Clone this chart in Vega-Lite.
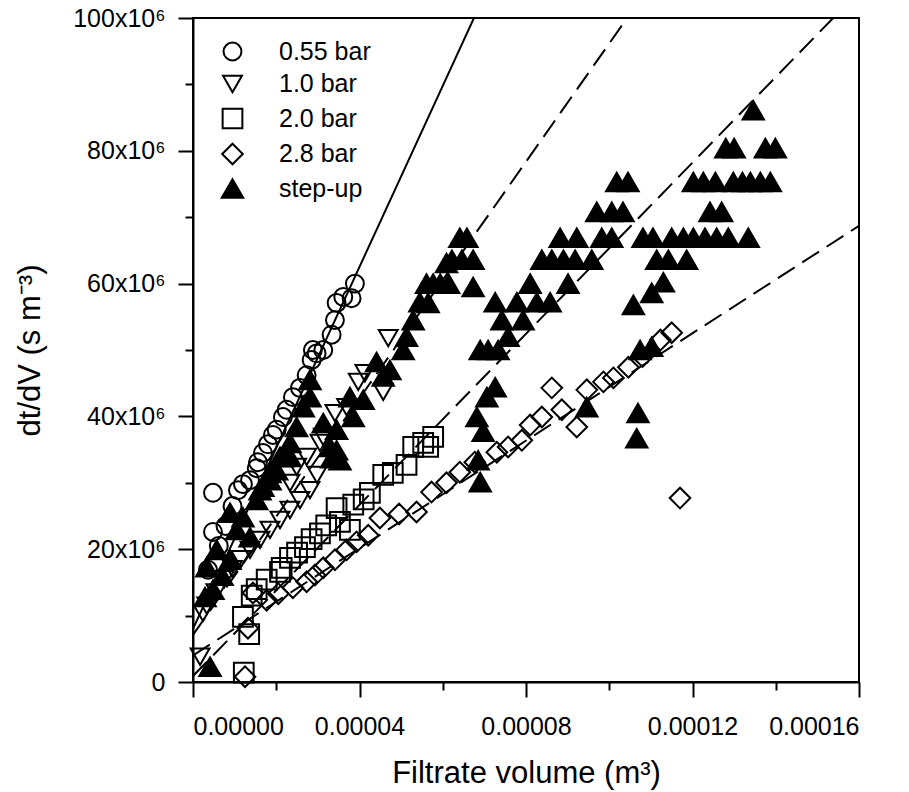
{
  "$schema": "https://vega.github.io/schema/vega-lite/v6.json",
  "width": 666,
  "height": 664,
  "autosize": {"type": "none"},
  "padding": {"left": 193, "top": 18, "right": 50, "bottom": 110},
  "background": "white",
  "config": {
    "view": {"stroke": "black", "strokeWidth": 2},
    "font": "Liberation Sans",
    "axis": {"grid": false, "domainColor": "black", "domainWidth": 2, "tickColor": "black", "tickWidth": 2, "labelColor": "black", "titleColor": "black", "labelFont": "Liberation Sans", "titleFont": "Liberation Sans", "titleFontWeight": "normal", "labelFontSize": 25, "titleFontSize": 31},
    "legend": {"orient": "none", "legendX": 27, "legendY": 21, "title": null, "labelFont": "Liberation Sans", "labelFontSize": 25, "labelColor": "black", "rowPadding": 6.5, "labelOffset": 34, "symbolStrokeColor": "black", "symbolStrokeWidth": 2, "padding": 0}
  },
  "datasets": {
    "fits": [
      {"fit": "0.55 bar", "style": "solid", "volume": 0, "dtdV": 8.0e6},
      {"fit": "0.55 bar", "style": "solid", "volume": 6.75e-5, "dtdV": 100e6},
      {"fit": "1.0 bar", "style": "dashed", "volume": 0, "dtdV": 7.1e6},
      {"fit": "1.0 bar", "style": "dashed", "volume": 10.43e-5, "dtdV": 100e6},
      {"fit": "2.0 bar", "style": "dashed", "volume": 0, "dtdV": 0.9e6},
      {"fit": "2.0 bar", "style": "dashed", "volume": 15.38e-5, "dtdV": 100e6},
      {"fit": "2.8 bar", "style": "dashed", "volume": 0, "dtdV": 4.0e6},
      {"fit": "2.8 bar", "style": "dashed", "volume": 16e-5, "dtdV": 68.7e6}
    ],
    "points": [
      {"series": "step-up", "volume": 0.41e-5, "dtdV": 2.3e6},
      {"series": "step-up", "volume": 0.29e-5, "dtdV": 12.8e6},
      {"series": "step-up", "volume": 0.48e-5, "dtdV": 13.9e6},
      {"series": "step-up", "volume": 0.33e-5, "dtdV": 17.3e6},
      {"series": "step-up", "volume": 0.57e-5, "dtdV": 19.9e6},
      {"series": "step-up", "volume": 0.70e-5, "dtdV": 16.0e6},
      {"series": "step-up", "volume": 0.89e-5, "dtdV": 18.4e6},
      {"series": "step-up", "volume": 1.05e-5, "dtdV": 22.9e6},
      {"series": "step-up", "volume": 1.37e-5, "dtdV": 21.8e6},
      {"series": "step-up", "volume": 0.89e-5, "dtdV": 25.5e6},
      {"series": "step-up", "volume": 1.20e-5, "dtdV": 24.8e6},
      {"series": "step-up", "volume": 1.53e-5, "dtdV": 27.4e6},
      {"series": "step-up", "volume": 1.61e-5, "dtdV": 28.9e6},
      {"series": "step-up", "volume": 1.68e-5, "dtdV": 29.4e6},
      {"series": "step-up", "volume": 1.85e-5, "dtdV": 30.4e6},
      {"series": "step-up", "volume": 1.85e-5, "dtdV": 31.5e6},
      {"series": "step-up", "volume": 2.01e-5, "dtdV": 31.9e6},
      {"series": "step-up", "volume": 2.09e-5, "dtdV": 33.9e6},
      {"series": "step-up", "volume": 2.16e-5, "dtdV": 33.9e6},
      {"series": "step-up", "volume": 2.33e-5, "dtdV": 33.9e6},
      {"series": "step-up", "volume": 2.33e-5, "dtdV": 36.0e6},
      {"series": "step-up", "volume": 2.49e-5, "dtdV": 38.4e6},
      {"series": "step-up", "volume": 2.65e-5, "dtdV": 41.4e6},
      {"series": "step-up", "volume": 2.81e-5, "dtdV": 42.9e6},
      {"series": "step-up", "volume": 2.81e-5, "dtdV": 45.5e6},
      {"series": "step-up", "volume": 3.13e-5, "dtdV": 39.0e6},
      {"series": "step-up", "volume": 3.29e-5, "dtdV": 35.4e6},
      {"series": "step-up", "volume": 3.33e-5, "dtdV": 33.7e6},
      {"series": "step-up", "volume": 3.45e-5, "dtdV": 34.9e6},
      {"series": "step-up", "volume": 3.45e-5, "dtdV": 38.0e6},
      {"series": "step-up", "volume": 3.53e-5, "dtdV": 33.4e6},
      {"series": "step-up", "volume": 3.77e-5, "dtdV": 42.9e6},
      {"series": "step-up", "volume": 3.85e-5, "dtdV": 39.9e6},
      {"series": "step-up", "volume": 4.09e-5, "dtdV": 42.5e6},
      {"series": "step-up", "volume": 4.41e-5, "dtdV": 48.2e6},
      {"series": "step-up", "volume": 4.57e-5, "dtdV": 46.0e6},
      {"series": "step-up", "volume": 4.73e-5, "dtdV": 47.0e6},
      {"series": "step-up", "volume": 5.05e-5, "dtdV": 50.0e6},
      {"series": "step-up", "volume": 5.13e-5, "dtdV": 52.0e6},
      {"series": "step-up", "volume": 5.29e-5, "dtdV": 54.5e6},
      {"series": "step-up", "volume": 5.45e-5, "dtdV": 57.2e6},
      {"series": "step-up", "volume": 5.61e-5, "dtdV": 60.0e6},
      {"series": "step-up", "volume": 5.65e-5, "dtdV": 57.1e6},
      {"series": "step-up", "volume": 5.77e-5, "dtdV": 60.0e6},
      {"series": "step-up", "volume": 5.94e-5, "dtdV": 60.0e6},
      {"series": "step-up", "volume": 6.09e-5, "dtdV": 63.1e6},
      {"series": "step-up", "volume": 6.14e-5, "dtdV": 60.0e6},
      {"series": "step-up", "volume": 6.22e-5, "dtdV": 63.6e6},
      {"series": "step-up", "volume": 6.41e-5, "dtdV": 66.9e6},
      {"series": "step-up", "volume": 6.46e-5, "dtdV": 63.6e6},
      {"series": "step-up", "volume": 6.58e-5, "dtdV": 66.9e6},
      {"series": "step-up", "volume": 6.73e-5, "dtdV": 63.6e6},
      {"series": "step-up", "volume": 6.73e-5, "dtdV": 59.5e6},
      {"series": "step-up", "volume": 6.82e-5, "dtdV": 39.9e6},
      {"series": "step-up", "volume": 6.85e-5, "dtdV": 33.4e6},
      {"series": "step-up", "volume": 6.90e-5, "dtdV": 30.1e6},
      {"series": "step-up", "volume": 6.97e-5, "dtdV": 37.7e6},
      {"series": "step-up", "volume": 6.90e-5, "dtdV": 50.0e6},
      {"series": "step-up", "volume": 7.06e-5, "dtdV": 42.9e6},
      {"series": "step-up", "volume": 7.09e-5, "dtdV": 50.0e6},
      {"series": "step-up", "volume": 7.26e-5, "dtdV": 44.4e6},
      {"series": "step-up", "volume": 7.26e-5, "dtdV": 57.2e6},
      {"series": "step-up", "volume": 7.33e-5, "dtdV": 50.0e6},
      {"series": "step-up", "volume": 7.42e-5, "dtdV": 54.5e6},
      {"series": "step-up", "volume": 7.57e-5, "dtdV": 52.0e6},
      {"series": "step-up", "volume": 7.78e-5, "dtdV": 57.2e6},
      {"series": "step-up", "volume": 7.93e-5, "dtdV": 54.5e6},
      {"series": "step-up", "volume": 8.10e-5, "dtdV": 60.0e6},
      {"series": "step-up", "volume": 8.26e-5, "dtdV": 57.2e6},
      {"series": "step-up", "volume": 8.38e-5, "dtdV": 63.6e6},
      {"series": "step-up", "volume": 8.58e-5, "dtdV": 57.2e6},
      {"series": "step-up", "volume": 8.62e-5, "dtdV": 63.6e6},
      {"series": "step-up", "volume": 8.82e-5, "dtdV": 66.9e6},
      {"series": "step-up", "volume": 8.90e-5, "dtdV": 63.6e6},
      {"series": "step-up", "volume": 9.01e-5, "dtdV": 60.0e6},
      {"series": "step-up", "volume": 9.18e-5, "dtdV": 63.6e6},
      {"series": "step-up", "volume": 9.22e-5, "dtdV": 66.9e6},
      {"series": "step-up", "volume": 9.46e-5, "dtdV": 41.4e6},
      {"series": "step-up", "volume": 9.58e-5, "dtdV": 63.6e6},
      {"series": "step-up", "volume": 9.70e-5, "dtdV": 70.8e6},
      {"series": "step-up", "volume": 9.82e-5, "dtdV": 66.9e6},
      {"series": "step-up", "volume": 10.06e-5, "dtdV": 66.9e6},
      {"series": "step-up", "volume": 10.06e-5, "dtdV": 70.8e6},
      {"series": "step-up", "volume": 10.18e-5, "dtdV": 75.3e6},
      {"series": "step-up", "volume": 10.33e-5, "dtdV": 70.8e6},
      {"series": "step-up", "volume": 10.45e-5, "dtdV": 75.3e6},
      {"series": "step-up", "volume": 10.58e-5, "dtdV": 56.8e6},
      {"series": "step-up", "volume": 10.66e-5, "dtdV": 36.7e6},
      {"series": "step-up", "volume": 10.69e-5, "dtdV": 40.5e6},
      {"series": "step-up", "volume": 10.74e-5, "dtdV": 50.0e6},
      {"series": "step-up", "volume": 10.81e-5, "dtdV": 66.9e6},
      {"series": "step-up", "volume": 11.02e-5, "dtdV": 50.5e6},
      {"series": "step-up", "volume": 11.02e-5, "dtdV": 58.6e6},
      {"series": "step-up", "volume": 11.05e-5, "dtdV": 66.9e6},
      {"series": "step-up", "volume": 11.14e-5, "dtdV": 63.6e6},
      {"series": "step-up", "volume": 11.30e-5, "dtdV": 60.2e6},
      {"series": "step-up", "volume": 11.42e-5, "dtdV": 63.6e6},
      {"series": "step-up", "volume": 11.50e-5, "dtdV": 66.9e6},
      {"series": "step-up", "volume": 11.78e-5, "dtdV": 66.9e6},
      {"series": "step-up", "volume": 11.86e-5, "dtdV": 63.6e6},
      {"series": "step-up", "volume": 12.02e-5, "dtdV": 75.3e6},
      {"series": "step-up", "volume": 12.02e-5, "dtdV": 66.9e6},
      {"series": "step-up", "volume": 12.26e-5, "dtdV": 75.3e6},
      {"series": "step-up", "volume": 12.30e-5, "dtdV": 66.9e6},
      {"series": "step-up", "volume": 12.42e-5, "dtdV": 70.8e6},
      {"series": "step-up", "volume": 12.55e-5, "dtdV": 75.3e6},
      {"series": "step-up", "volume": 12.58e-5, "dtdV": 66.9e6},
      {"series": "step-up", "volume": 12.70e-5, "dtdV": 70.8e6},
      {"series": "step-up", "volume": 12.80e-5, "dtdV": 80.4e6},
      {"series": "step-up", "volume": 12.86e-5, "dtdV": 66.9e6},
      {"series": "step-up", "volume": 12.98e-5, "dtdV": 75.3e6},
      {"series": "step-up", "volume": 13.00e-5, "dtdV": 80.4e6},
      {"series": "step-up", "volume": 13.20e-5, "dtdV": 75.3e6},
      {"series": "step-up", "volume": 13.34e-5, "dtdV": 66.9e6},
      {"series": "step-up", "volume": 13.39e-5, "dtdV": 75.3e6},
      {"series": "step-up", "volume": 13.46e-5, "dtdV": 86.1e6},
      {"series": "step-up", "volume": 13.63e-5, "dtdV": 75.3e6},
      {"series": "step-up", "volume": 13.75e-5, "dtdV": 80.4e6},
      {"series": "step-up", "volume": 13.87e-5, "dtdV": 75.3e6},
      {"series": "step-up", "volume": 13.99e-5, "dtdV": 80.4e6},

      {"series": "0.55 bar", "volume": 0.36e-5, "dtdV": 16.9e6},
      {"series": "0.55 bar", "volume": 0.48e-5, "dtdV": 22.6e6},
      {"series": "0.55 bar", "volume": 0.48e-5, "dtdV": 28.5e6},
      {"series": "0.55 bar", "volume": 0.62e-5, "dtdV": 20.5e6},
      {"series": "0.55 bar", "volume": 0.78e-5, "dtdV": 23.5e6},
      {"series": "0.55 bar", "volume": 0.95e-5, "dtdV": 26.5e6},
      {"series": "0.55 bar", "volume": 1.08e-5, "dtdV": 28.9e6},
      {"series": "0.55 bar", "volume": 1.20e-5, "dtdV": 29.8e6},
      {"series": "0.55 bar", "volume": 1.37e-5, "dtdV": 30.4e6},
      {"series": "0.55 bar", "volume": 1.53e-5, "dtdV": 32.2e6},
      {"series": "0.55 bar", "volume": 1.56e-5, "dtdV": 33.1e6},
      {"series": "0.55 bar", "volume": 1.68e-5, "dtdV": 34.5e6},
      {"series": "0.55 bar", "volume": 1.80e-5, "dtdV": 35.8e6},
      {"series": "0.55 bar", "volume": 1.92e-5, "dtdV": 37.2e6},
      {"series": "0.55 bar", "volume": 2.01e-5, "dtdV": 38.0e6},
      {"series": "0.55 bar", "volume": 2.16e-5, "dtdV": 39.9e6},
      {"series": "0.55 bar", "volume": 2.25e-5, "dtdV": 41.0e6},
      {"series": "0.55 bar", "volume": 2.40e-5, "dtdV": 42.9e6},
      {"series": "0.55 bar", "volume": 2.57e-5, "dtdV": 44.3e6},
      {"series": "0.55 bar", "volume": 2.73e-5, "dtdV": 46.2e6},
      {"series": "0.55 bar", "volume": 2.85e-5, "dtdV": 48.5e6},
      {"series": "0.55 bar", "volume": 2.88e-5, "dtdV": 50.0e6},
      {"series": "0.55 bar", "volume": 2.97e-5, "dtdV": 49.5e6},
      {"series": "0.55 bar", "volume": 3.13e-5, "dtdV": 50.0e6},
      {"series": "0.55 bar", "volume": 3.33e-5, "dtdV": 52.3e6},
      {"series": "0.55 bar", "volume": 3.41e-5, "dtdV": 54.5e6},
      {"series": "0.55 bar", "volume": 3.45e-5, "dtdV": 57.1e6},
      {"series": "0.55 bar", "volume": 3.61e-5, "dtdV": 58.0e6},
      {"series": "0.55 bar", "volume": 3.81e-5, "dtdV": 57.8e6},
      {"series": "0.55 bar", "volume": 3.89e-5, "dtdV": 60.0e6},

      {"series": "1.0 bar", "volume": 0.17e-5, "dtdV": 3.8e6},
      {"series": "1.0 bar", "volume": 0.24e-5, "dtdV": 10.4e6},
      {"series": "1.0 bar", "volume": 0.33e-5, "dtdV": 11.5e6},
      {"series": "1.0 bar", "volume": 0.55e-5, "dtdV": 13.5e6},
      {"series": "1.0 bar", "volume": 0.75e-5, "dtdV": 15.5e6},
      {"series": "1.0 bar", "volume": 0.95e-5, "dtdV": 17.0e6},
      {"series": "1.0 bar", "volume": 1.15e-5, "dtdV": 18.5e6},
      {"series": "1.0 bar", "volume": 1.37e-5, "dtdV": 19.9e6},
      {"series": "1.0 bar", "volume": 1.61e-5, "dtdV": 21.4e6},
      {"series": "1.0 bar", "volume": 1.85e-5, "dtdV": 22.9e6},
      {"series": "1.0 bar", "volume": 2.09e-5, "dtdV": 24.4e6},
      {"series": "1.0 bar", "volume": 2.33e-5, "dtdV": 25.9e6},
      {"series": "1.0 bar", "volume": 2.57e-5, "dtdV": 27.4e6},
      {"series": "1.0 bar", "volume": 2.81e-5, "dtdV": 28.9e6},
      {"series": "1.0 bar", "volume": 2.98e-5, "dtdV": 31.2e6},
      {"series": "1.0 bar", "volume": 2.33e-5, "dtdV": 30.0e6},
      {"series": "1.0 bar", "volume": 2.49e-5, "dtdV": 32.4e6},
      {"series": "1.0 bar", "volume": 2.73e-5, "dtdV": 33.9e6},
      {"series": "1.0 bar", "volume": 3.05e-5, "dtdV": 36.0e6},
      {"series": "1.0 bar", "volume": 3.13e-5, "dtdV": 36.9e6},
      {"series": "1.0 bar", "volume": 3.41e-5, "dtdV": 40.5e6},
      {"series": "1.0 bar", "volume": 3.69e-5, "dtdV": 41.4e6},
      {"series": "1.0 bar", "volume": 3.97e-5, "dtdV": 45.2e6},
      {"series": "1.0 bar", "volume": 4.13e-5, "dtdV": 46.5e6},
      {"series": "1.0 bar", "volume": 4.57e-5, "dtdV": 43.7e6},
      {"series": "1.0 bar", "volume": 4.69e-5, "dtdV": 51.8e6},

      {"series": "2.0 bar", "volume": 1.22e-5, "dtdV": 1.4e6},
      {"series": "2.0 bar", "volume": 1.35e-5, "dtdV": 7.2e6},
      {"series": "2.0 bar", "volume": 1.20e-5, "dtdV": 9.8e6},
      {"series": "2.0 bar", "volume": 1.41e-5, "dtdV": 13.0e6},
      {"series": "2.0 bar", "volume": 1.53e-5, "dtdV": 14.0e6},
      {"series": "2.0 bar", "volume": 1.77e-5, "dtdV": 15.4e6},
      {"series": "2.0 bar", "volume": 2.09e-5, "dtdV": 16.6e6},
      {"series": "2.0 bar", "volume": 2.13e-5, "dtdV": 17.2e6},
      {"series": "2.0 bar", "volume": 2.33e-5, "dtdV": 18.7e6},
      {"series": "2.0 bar", "volume": 2.50e-5, "dtdV": 19.5e6},
      {"series": "2.0 bar", "volume": 2.69e-5, "dtdV": 20.3e6},
      {"series": "2.0 bar", "volume": 2.85e-5, "dtdV": 21.5e6},
      {"series": "2.0 bar", "volume": 3.05e-5, "dtdV": 22.4e6},
      {"series": "2.0 bar", "volume": 3.20e-5, "dtdV": 23.6e6},
      {"series": "2.0 bar", "volume": 3.53e-5, "dtdV": 24.1e6},
      {"series": "2.0 bar", "volume": 3.77e-5, "dtdV": 22.9e6},
      {"series": "2.0 bar", "volume": 3.45e-5, "dtdV": 26.2e6},
      {"series": "2.0 bar", "volume": 3.85e-5, "dtdV": 26.7e6},
      {"series": "2.0 bar", "volume": 4.10e-5, "dtdV": 27.5e6},
      {"series": "2.0 bar", "volume": 4.25e-5, "dtdV": 28.5e6},
      {"series": "2.0 bar", "volume": 4.57e-5, "dtdV": 31.2e6},
      {"series": "2.0 bar", "volume": 4.80e-5, "dtdV": 31.5e6},
      {"series": "2.0 bar", "volume": 5.13e-5, "dtdV": 32.7e6},
      {"series": "2.0 bar", "volume": 5.29e-5, "dtdV": 35.4e6},
      {"series": "2.0 bar", "volume": 5.53e-5, "dtdV": 36.0e6},
      {"series": "2.0 bar", "volume": 5.65e-5, "dtdV": 35.4e6},
      {"series": "2.0 bar", "volume": 5.77e-5, "dtdV": 36.9e6},

      {"series": "2.8 bar", "volume": 1.25e-5, "dtdV": 0.8e6},
      {"series": "2.8 bar", "volume": 1.32e-5, "dtdV": 8.1e6},
      {"series": "2.8 bar", "volume": 1.44e-5, "dtdV": 13.4e6},
      {"series": "2.8 bar", "volume": 1.77e-5, "dtdV": 12.3e6},
      {"series": "2.8 bar", "volume": 2.05e-5, "dtdV": 13.3e6},
      {"series": "2.8 bar", "volume": 2.40e-5, "dtdV": 14.2e6},
      {"series": "2.8 bar", "volume": 2.73e-5, "dtdV": 15.1e6},
      {"series": "2.8 bar", "volume": 2.93e-5, "dtdV": 16.1e6},
      {"series": "2.8 bar", "volume": 3.13e-5, "dtdV": 17.2e6},
      {"series": "2.8 bar", "volume": 3.41e-5, "dtdV": 18.4e6},
      {"series": "2.8 bar", "volume": 3.69e-5, "dtdV": 19.9e6},
      {"series": "2.8 bar", "volume": 3.93e-5, "dtdV": 21.1e6},
      {"series": "2.8 bar", "volume": 4.21e-5, "dtdV": 22.1e6},
      {"series": "2.8 bar", "volume": 4.49e-5, "dtdV": 24.7e6},
      {"series": "2.8 bar", "volume": 4.95e-5, "dtdV": 25.3e6},
      {"series": "2.8 bar", "volume": 5.37e-5, "dtdV": 25.6e6},
      {"series": "2.8 bar", "volume": 5.73e-5, "dtdV": 28.6e6},
      {"series": "2.8 bar", "volume": 6.09e-5, "dtdV": 30.0e6},
      {"series": "2.8 bar", "volume": 6.41e-5, "dtdV": 31.6e6},
      {"series": "2.8 bar", "volume": 6.77e-5, "dtdV": 33.1e6},
      {"series": "2.8 bar", "volume": 7.30e-5, "dtdV": 34.6e6},
      {"series": "2.8 bar", "volume": 7.57e-5, "dtdV": 35.4e6},
      {"series": "2.8 bar", "volume": 7.90e-5, "dtdV": 36.4e6},
      {"series": "2.8 bar", "volume": 8.10e-5, "dtdV": 38.7e6},
      {"series": "2.8 bar", "volume": 8.38e-5, "dtdV": 39.9e6},
      {"series": "2.8 bar", "volume": 8.62e-5, "dtdV": 44.3e6},
      {"series": "2.8 bar", "volume": 8.86e-5, "dtdV": 41.0e6},
      {"series": "2.8 bar", "volume": 9.22e-5, "dtdV": 38.4e6},
      {"series": "2.8 bar", "volume": 9.46e-5, "dtdV": 44.0e6},
      {"series": "2.8 bar", "volume": 9.86e-5, "dtdV": 45.2e6},
      {"series": "2.8 bar", "volume": 10.10e-5, "dtdV": 45.8e6},
      {"series": "2.8 bar", "volume": 10.46e-5, "dtdV": 47.4e6},
      {"series": "2.8 bar", "volume": 10.80e-5, "dtdV": 49.0e6},
      {"series": "2.8 bar", "volume": 11.23e-5, "dtdV": 51.5e6},
      {"series": "2.8 bar", "volume": 11.50e-5, "dtdV": 52.6e6},
      {"series": "2.8 bar", "volume": 11.70e-5, "dtdV": 27.7e6}
    ]
  },
  "resolve": {"axis": {"x": "independent", "y": "independent"}},
  "layer": [
    {
      "data": {"name": "fits"},
      "mark": {"type": "line", "color": "black", "strokeWidth": 2, "clip": true},
      "encoding": {
        "x": {"field": "volume", "type": "quantitative", "scale": {"domain": [0, 0.00016], "nice": false, "zero": false},
          "axis": {"orient": "bottom", "values": [0, 0.00004, 0.00008, 0.00012, 0.00016], "format": ".5f", "tickSize": 15, "labelPadding": 17, "title": "Filtrate volume (m³)", "titleY": 100, "titleBaseline": "alphabetic"}},
        "y": {"field": "dtdV", "type": "quantitative", "scale": {"domain": [0, 100000000], "nice": false, "zero": false},
          "axis": {"orient": "left", "values": [0, 20000000, 40000000, 60000000, 80000000, 100000000], "labelExpr": "datum.value == 0 ? '0' : format(datum.value / 1000000, 'd') + 'x10⁶'", "tickSize": 15, "labelPadding": 13, "title": "dt/dV (s m⁻³)", "titleX": -163, "titleY": 332, "titleAngle": -90, "titleBaseline": "middle", "titleAlign": "center"}},
        "detail": {"field": "fit"},
        "strokeDash": {"field": "style", "type": "nominal", "scale": {"domain": ["solid", "dashed"], "range": [[1, 0], [20, 9]]}, "legend": null}
      }
    },
    {
      "data": {"name": "points"},
      "mark": {"type": "point", "stroke": "black", "strokeWidth": 2, "opacity": 1, "clip": false},
      "encoding": {
        "x": {"field": "volume", "type": "quantitative",
          "axis": {"orient": "bottom", "values": [0.00002, 0.00006, 0.0001, 0.00014], "labels": false, "domain": false, "tickSize": 8, "title": null}},
        "y": {"field": "dtdV", "type": "quantitative",
          "axis": {"orient": "left", "values": [10000000, 30000000, 50000000, 70000000, 90000000], "labels": false, "domain": false, "tickSize": 8, "title": null}},
        "shape": {"field": "series", "type": "nominal", "scale": {"domain": ["0.55 bar", "1.0 bar", "2.0 bar", "2.8 bar", "step-up"], "range": ["circle", "triangle-down", "square", "diamond", "triangle-up"]}},
        "fill": {"field": "series", "type": "nominal", "scale": {"domain": ["0.55 bar", "1.0 bar", "2.0 bar", "2.8 bar", "step-up"], "range": ["transparent", "transparent", "transparent", "transparent", "black"]}},
        "stroke": {"field": "series", "type": "nominal", "scale": {"domain": ["0.55 bar", "1.0 bar", "2.0 bar", "2.8 bar", "step-up"], "range": ["black", "black", "black", "black", "black"]}},
        "size": {"field": "series", "type": "nominal", "scale": {"domain": ["0.55 bar", "1.0 bar", "2.0 bar", "2.8 bar", "step-up"], "range": [320, 460, 246, 530, 460]}}
      }
    }
  ]
}
